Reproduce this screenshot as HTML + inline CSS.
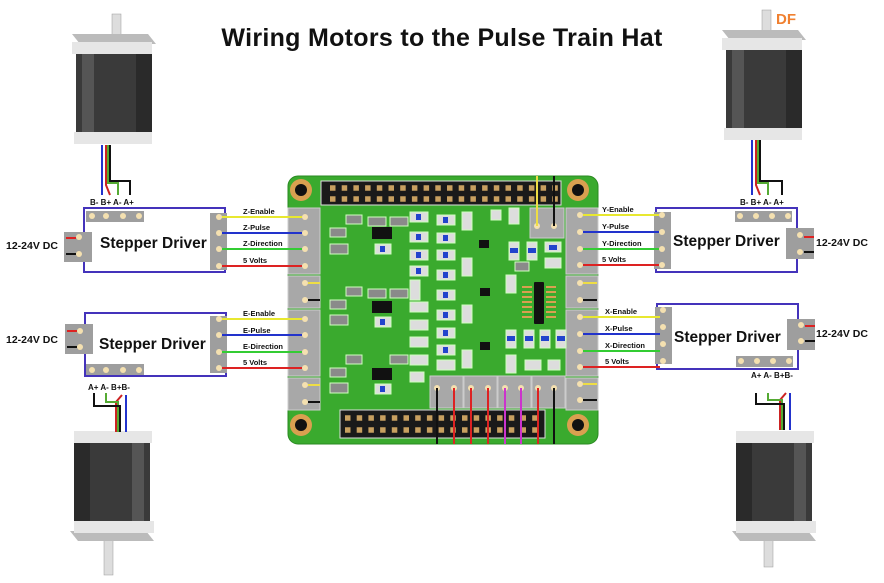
<!DOCTYPE html>
<html><head><meta charset="utf-8"><style>
html,body{margin:0;padding:0;background:#fff;width:884px;height:583px;overflow:hidden}
svg{display:block}
.t{font-family:"Liberation Sans",sans-serif;font-weight:bold}
</style></head><body>
<svg width="884" height="583" viewBox="0 0 884 583" xmlns="http://www.w3.org/2000/svg">
<defs>
<g id="motorUp">
 <rect x="0" y="8" width="76" height="96" fill="#3a3a3a"/>
 <rect x="6" y="8" width="12" height="96" fill="#555"/>
 <rect x="60" y="8" width="16" height="96" fill="#2a2a2a"/>
 <polygon points="-4,0 72,0 80,10 4,10" fill="#bbb"/>
 <rect x="-4" y="8" width="80" height="12" fill="#e6e6e6"/>
 <rect x="-2" y="98" width="78" height="12" fill="#e6e6e6"/>
</g>
</defs>

<text x="442" y="46" text-anchor="middle" class="t" font-size="25" fill="#111" style="letter-spacing:0.3px">Wiring Motors to the Pulse Train Hat</text>
<text x="776" y="24" class="t" font-size="15" fill="#f08030">DF</text>

<rect x="112" y="14" width="9" height="28" fill="#ddd" stroke="#999" stroke-width="0.5"/>
<use href="#motorUp" x="76" y="34"/>
<rect x="762" y="10" width="9" height="28" fill="#ddd" stroke="#999" stroke-width="0.5"/>
<use href="#motorUp" x="726" y="30"/>
<rect x="104" y="535" width="9" height="40" fill="#ddd" stroke="#999" stroke-width="0.5"/>
<g transform="translate(150,541) scale(-1,-1)"><use href="#motorUp"/></g>
<rect x="764" y="535" width="9" height="32" fill="#ddd" stroke="#999" stroke-width="0.5"/>
<g transform="translate(812,541) scale(-1,-1)"><use href="#motorUp"/></g>

<g fill="none" stroke-width="2">
<path d="M102,145 V195" stroke="#2233cc"/><path d="M106,145 V185 L110,195" stroke="#cc2222"/>
<path d="M108,145 V183 H118 V195" stroke="#55aa33"/><path d="M110,145 V181 H130 V195" stroke="#111"/>
<path d="M752,140 V195" stroke="#2233cc"/><path d="M756,140 V185 L760,195" stroke="#cc2222"/>
<path d="M758,140 V183 H768 V195" stroke="#55aa33"/><path d="M760,140 V181 H782 V195" stroke="#111"/>
<path d="M126,395 V432" stroke="#2233cc"/><path d="M122,395 L116,402 V432" stroke="#cc2222"/>
<path d="M106,393 V402 H118 V432" stroke="#55aa33"/><path d="M94,393 V406 H120 V432" stroke="#111"/>
<path d="M790,393 V430" stroke="#2233cc"/><path d="M786,393 L780,400 V430" stroke="#cc2222"/>
<path d="M768,393 V400 H782 V430" stroke="#55aa33"/><path d="M756,393 V404 H784 V430" stroke="#111"/>
</g>
<g class="t" font-size="8" fill="#111">
<text x="90" y="205">B- B+ A- A+</text>
<text x="740" y="205">B- B+ A- A+</text>
<text x="88" y="390">A+ A-  B+B-</text>
<text x="751" y="378">A+ A-  B+B-</text>
</g>

<rect x="288" y="176" width="310" height="268" rx="10" fill="#3aaa2e" stroke="#2a8a22"/>
<rect x="321" y="181" width="240" height="24" fill="#1a1a1a" stroke="#ddd"/>
<path d="M330,188 h230" stroke="#c8a060" stroke-width="5.5" stroke-dasharray="5.5 6.2" fill="none"/>
<path d="M330,199 h230" stroke="#c8a060" stroke-width="5.5" stroke-dasharray="5.5 6.2" fill="none"/>
<rect x="340" y="410" width="205" height="28" fill="#1a1a1a" stroke="#ddd"/>
<path d="M345,418 h198" stroke="#c8a060" stroke-width="5.5" stroke-dasharray="5.5 6.2" fill="none"/>
<path d="M345,430 h198" stroke="#c8a060" stroke-width="5.5" stroke-dasharray="5.5 6.2" fill="none"/>
<g fill="#d9a050"><circle cx="301" cy="190" r="11"/><circle cx="578" cy="190" r="11"/><circle cx="301" cy="425" r="11"/><circle cx="578" cy="425" r="11"/></g>
<g fill="#111"><circle cx="301" cy="190" r="6"/><circle cx="578" cy="190" r="6"/><circle cx="301" cy="425" r="6"/><circle cx="578" cy="425" r="6"/></g>

<g fill="#a8a8a8" stroke="#ccc">
<rect x="288" y="208" width="32" height="66"/><rect x="288" y="276" width="32" height="32"/>
<rect x="288" y="310" width="32" height="66"/><rect x="288" y="378" width="32" height="32"/>
<rect x="566" y="208" width="32" height="66"/><rect x="566" y="276" width="32" height="32"/>
<rect x="566" y="310" width="32" height="66"/><rect x="566" y="378" width="32" height="32"/>
<rect x="530" y="208" width="34" height="30"/>
<rect x="430" y="376" width="33" height="32"/><rect x="464" y="376" width="33" height="32"/>
<rect x="498" y="376" width="33" height="32"/><rect x="532" y="376" width="33" height="32"/>
</g>
<g fill="#8a8a8a" stroke="#d0ffc0" stroke-width="1">
<rect x="346" y="215" width="16" height="9"/><rect x="368" y="217" width="18" height="9"/><rect x="390" y="217" width="18" height="9"/>
<rect x="330" y="228" width="16" height="9"/><rect x="330" y="244" width="18" height="10"/>
<rect x="346" y="287" width="16" height="9"/><rect x="368" y="289" width="18" height="9"/><rect x="390" y="289" width="18" height="9"/>
<rect x="330" y="300" width="16" height="9"/><rect x="330" y="315" width="18" height="10"/>
<rect x="346" y="355" width="16" height="9"/><rect x="390" y="355" width="18" height="9"/>
<rect x="330" y="368" width="16" height="9"/><rect x="330" y="383" width="18" height="10"/>
<rect x="515" y="262" width="14" height="9"/>
</g>
<g fill="#dddddd" stroke="#d0ffc0" stroke-width="1">
<rect x="375" y="244" width="16" height="10"/><rect x="375" y="317" width="16" height="10"/><rect x="375" y="384" width="16" height="10"/>
<rect x="410" y="212" width="18" height="10"/><rect x="410" y="232" width="18" height="10"/><rect x="410" y="250" width="18" height="10"/><rect x="410" y="266" width="18" height="10"/>
<rect x="410" y="280" width="10" height="20"/><rect x="410" y="302" width="18" height="10"/><rect x="410" y="320" width="18" height="10"/><rect x="410" y="337" width="18" height="10"/>
<rect x="410" y="355" width="18" height="10"/><rect x="410" y="372" width="14" height="10"/>
<rect x="437" y="215" width="18" height="10"/><rect x="437" y="233" width="18" height="10"/><rect x="437" y="250" width="18" height="10"/><rect x="437" y="270" width="18" height="10"/>
<rect x="437" y="290" width="18" height="10"/><rect x="437" y="310" width="18" height="10"/><rect x="437" y="328" width="18" height="10"/><rect x="437" y="345" width="18" height="10"/><rect x="437" y="360" width="18" height="10"/>
<rect x="462" y="212" width="10" height="18"/><rect x="462" y="258" width="10" height="18"/><rect x="462" y="305" width="10" height="18"/><rect x="462" y="350" width="10" height="18"/>
<rect x="491" y="210" width="10" height="10"/><rect x="509" y="208" width="10" height="16"/>
<rect x="509" y="242" width="10" height="18"/><rect x="527" y="242" width="10" height="18"/><rect x="545" y="242" width="16" height="10"/><rect x="545" y="258" width="16" height="10"/>
<rect x="506" y="275" width="10" height="18"/><rect x="506" y="330" width="10" height="18"/><rect x="524" y="330" width="10" height="18"/><rect x="540" y="330" width="10" height="18"/><rect x="556" y="330" width="10" height="18"/>
<rect x="506" y="355" width="10" height="18"/><rect x="525" y="360" width="16" height="10"/><rect x="548" y="360" width="12" height="10"/>
</g>
<g fill="#2244cc">
<rect x="416" y="214" width="5" height="6"/><rect x="416" y="234" width="5" height="6"/><rect x="416" y="252" width="5" height="6"/><rect x="416" y="268" width="5" height="6"/>
<rect x="443" y="217" width="5" height="6"/><rect x="443" y="235" width="5" height="6"/><rect x="443" y="252" width="5" height="6"/><rect x="443" y="272" width="5" height="6"/><rect x="443" y="292" width="5" height="6"/><rect x="443" y="312" width="5" height="6"/><rect x="443" y="330" width="5" height="6"/><rect x="443" y="347" width="5" height="6"/>
<rect x="380" y="246" width="5" height="6"/><rect x="380" y="319" width="5" height="6"/><rect x="380" y="386" width="5" height="6"/>
<rect x="510" y="248" width="8" height="5"/><rect x="528" y="248" width="8" height="5"/><rect x="549" y="245" width="8" height="5"/>
<rect x="507" y="336" width="8" height="5"/><rect x="525" y="336" width="8" height="5"/><rect x="541" y="336" width="8" height="5"/><rect x="557" y="336" width="8" height="5"/>
</g>
<g fill="#111">
<rect x="372" y="227" width="20" height="12"/><rect x="372" y="301" width="20" height="12"/><rect x="372" y="368" width="20" height="12"/>
<rect x="479" y="240" width="10" height="8"/><rect x="480" y="288" width="10" height="8"/><rect x="480" y="342" width="10" height="8"/>
<rect x="534" y="282" width="10" height="42" rx="1"/>
</g>
<g stroke="#d9a050" stroke-width="2">
<path d="M522,287h10M522,292h10M522,297h10M522,302h10M522,307h10M522,312h10M522,317h10M546,287h10M546,292h10M546,297h10M546,302h10M546,307h10M546,312h10M546,317h10"/>
</g>

<g fill="#f4e0b0">
<circle cx="305" cy="217" r="3"/><circle cx="305" cy="233" r="3"/><circle cx="305" cy="249" r="3"/><circle cx="305" cy="266" r="3"/>
<circle cx="305" cy="283" r="3"/><circle cx="305" cy="300" r="3"/>
<circle cx="305" cy="319" r="3"/><circle cx="305" cy="335" r="3"/><circle cx="305" cy="352" r="3"/><circle cx="305" cy="368" r="3"/>
<circle cx="305" cy="385" r="3"/><circle cx="305" cy="402" r="3"/>
<circle cx="580" cy="215" r="3"/><circle cx="580" cy="232" r="3"/><circle cx="580" cy="249" r="3"/><circle cx="580" cy="265" r="3"/>
<circle cx="580" cy="283" r="3"/><circle cx="580" cy="300" r="3"/>
<circle cx="580" cy="317" r="3"/><circle cx="580" cy="334" r="3"/><circle cx="580" cy="351" r="3"/><circle cx="580" cy="367" r="3"/>
<circle cx="580" cy="384" r="3"/><circle cx="580" cy="400" r="3"/>
<circle cx="537" cy="226" r="3"/><circle cx="554" cy="226" r="3"/>
<circle cx="437" cy="388" r="3"/><circle cx="454" cy="388" r="3"/><circle cx="471" cy="388" r="3"/><circle cx="488" cy="388" r="3"/>
<circle cx="505" cy="388" r="3"/><circle cx="521" cy="388" r="3"/><circle cx="538" cy="388" r="3"/><circle cx="554" cy="388" r="3"/>
</g>
<g stroke-width="2">
<path d="M537,176 V226" stroke="#eedd44"/><path d="M554,176 V226" stroke="#111"/>
<path d="M308,283 H320" stroke="#eedd44"/><path d="M308,300 H320" stroke="#111"/>
<path d="M308,385 H320" stroke="#eedd44"/><path d="M308,402 H320" stroke="#111"/>
<path d="M583,283 H597" stroke="#eedd44"/><path d="M583,300 H597" stroke="#111"/>
<path d="M583,384 H597" stroke="#eedd44"/><path d="M583,400 H597" stroke="#111"/>
<path d="M437,388 V444" stroke="#111"/><path d="M454,388 V444" stroke="#dd2222"/><path d="M471,388 V444" stroke="#dd2222"/><path d="M488,388 V444" stroke="#dd2222"/>
<path d="M505,388 V444" stroke="#cc33cc"/><path d="M521,388 V444" stroke="#cc33cc"/><path d="M538,388 V444" stroke="#dd2222"/><path d="M554,388 V444" stroke="#111"/>
</g>

<g fill="#fff" stroke="#4433bb" stroke-width="2">
<rect x="84" y="208" width="141" height="64"/>
<rect x="85" y="313" width="141" height="63"/>
<rect x="656" y="208" width="141" height="64"/>
<rect x="657" y="304" width="141" height="65"/>
</g>
<g fill="#9e9e9e">
<rect x="86" y="211" width="58" height="11"/><rect x="64" y="232" width="28" height="30"/><rect x="210" y="213" width="17" height="57"/>
<rect x="86" y="364" width="58" height="11"/><rect x="65" y="324" width="28" height="30"/><rect x="210" y="316" width="17" height="57"/>
<rect x="735" y="211" width="57" height="11"/><rect x="786" y="228" width="28" height="31"/><rect x="654" y="212" width="17" height="57"/>
<rect x="736" y="356" width="57" height="11"/><rect x="787" y="319" width="28" height="31"/><rect x="655" y="307" width="17" height="57"/>
</g>
<g fill="#f4e0b0">
<circle cx="92" cy="216" r="3"/><circle cx="106" cy="216" r="3"/><circle cx="123" cy="216" r="3"/><circle cx="139" cy="216" r="3"/>
<circle cx="79" cy="237" r="3"/><circle cx="79" cy="254" r="3"/>
<circle cx="219" cy="217" r="3"/><circle cx="219" cy="233" r="3"/><circle cx="219" cy="249" r="3"/><circle cx="219" cy="266" r="3"/>
<circle cx="92" cy="370" r="3"/><circle cx="106" cy="370" r="3"/><circle cx="123" cy="370" r="3"/><circle cx="139" cy="370" r="3"/>
<circle cx="80" cy="331" r="3"/><circle cx="80" cy="347" r="3"/>
<circle cx="219" cy="319" r="3"/><circle cx="219" cy="335" r="3"/><circle cx="219" cy="352" r="3"/><circle cx="219" cy="368" r="3"/>
<circle cx="740" cy="216" r="3"/><circle cx="756" cy="216" r="3"/><circle cx="772" cy="216" r="3"/><circle cx="788" cy="216" r="3"/>
<circle cx="800" cy="235" r="3"/><circle cx="800" cy="252" r="3"/>
<circle cx="662" cy="215" r="3"/><circle cx="662" cy="232" r="3"/><circle cx="662" cy="249" r="3"/><circle cx="662" cy="265" r="3"/>
<circle cx="741" cy="361" r="3"/><circle cx="757" cy="361" r="3"/><circle cx="773" cy="361" r="3"/><circle cx="789" cy="361" r="3"/>
<circle cx="801" cy="325" r="3"/><circle cx="801" cy="341" r="3"/>
<circle cx="663" cy="310" r="3"/><circle cx="663" cy="327" r="3"/><circle cx="663" cy="344" r="3"/><circle cx="663" cy="361" r="3"/>
</g>
<g stroke-width="2">
<path d="M66,238 H76" stroke="#dd2222"/><path d="M66,254 H76" stroke="#111"/>
<path d="M67,331 H77" stroke="#dd2222"/><path d="M67,347 H77" stroke="#111"/>
<path d="M804,237 H814" stroke="#dd2222"/><path d="M804,252 H814" stroke="#111"/>
<path d="M805,326 H815" stroke="#dd2222"/><path d="M805,341 H815" stroke="#111"/>
</g>
<g stroke-width="2">
<path d="M222,217 H302" stroke="#e8e830"/><path d="M222,233 H302" stroke="#2233cc"/><path d="M222,249 H302" stroke="#33cc33"/><path d="M222,266 H302" stroke="#dd2222"/>
<path d="M222,319 H302" stroke="#e8e830"/><path d="M222,335 H302" stroke="#2233cc"/><path d="M222,352 H302" stroke="#33cc33"/><path d="M222,368 H302" stroke="#dd2222"/>
<path d="M583,215 H659" stroke="#e8e830"/><path d="M583,232 H659" stroke="#2233cc"/><path d="M583,249 H659" stroke="#33cc33"/><path d="M583,265 H659" stroke="#dd2222"/>
<path d="M583,317 H660" stroke="#e8e830"/><path d="M583,334 H660" stroke="#2233cc"/><path d="M583,351 H660" stroke="#33cc33"/><path d="M583,367 H660" stroke="#dd2222"/>
</g>
<g class="t" font-size="7.5" fill="#111">
<text x="243" y="214">Z-Enable</text><text x="243" y="230">Z-Pulse</text><text x="243" y="246">Z-Direction</text><text x="243" y="263">5 Volts</text>
<text x="243" y="316">E-Enable</text><text x="243" y="333">E-Pulse</text><text x="243" y="349">E-Direction</text><text x="243" y="365">5 Volts</text>
<text x="602" y="212">Y-Enable</text><text x="602" y="229">Y-Pulse</text><text x="602" y="246">Y-Direction</text><text x="602" y="262">5 Volts</text>
<text x="605" y="314">X-Enable</text><text x="605" y="331">X-Pulse</text><text x="605" y="348">X-Direction</text><text x="605" y="364">5 Volts</text>
</g>
<g class="t" font-size="15.5" fill="#111">
<text x="100" y="248">Stepper Driver</text>
<text x="99" y="349">Stepper Driver</text>
<text x="673" y="246">Stepper Driver</text>
<text x="674" y="342">Stepper Driver</text>
</g>
<g class="t" font-size="10.5" fill="#111">
<text x="6" y="249">12-24V DC</text>
<text x="6" y="343">12-24V DC</text>
<text x="816" y="246">12-24V DC</text>
<text x="816" y="337">12-24V DC</text>
</g>
</svg>
</body></html>
